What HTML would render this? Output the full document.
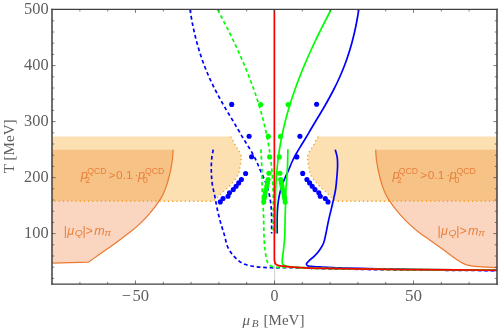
<!DOCTYPE html>
<html><head><meta charset="utf-8"><title>chart</title>
<style>html,body{margin:0;padding:0;background:#fff}svg{display:block;will-change:transform}</style>
</head><body>
<svg width="498" height="331" viewBox="0 0 498 331">
<rect width="498" height="331" fill="#fff"/>
<path d="M52.00 136.60 L230.60 136.60 C231.37 137.83 232.21 139.03 232.90 140.30 C233.62 141.62 234.08 143.08 234.80 144.40 C235.57 145.82 236.55 147.12 237.40 148.50 C238.28 149.92 239.31 151.28 240.00 152.80 C240.61 154.14 241.26 155.56 241.40 157.00 C241.51 158.14 241.25 159.34 241.10 160.50 C240.91 162.01 240.54 163.50 240.30 165.00 C240.12 166.10 239.98 167.20 239.80 168.30 C239.56 169.74 239.44 171.22 239.00 172.60 C238.53 174.06 237.77 175.46 237.00 176.80 C235.60 179.24 233.66 181.38 231.80 183.50 C228.93 186.77 225.42 189.45 222.30 192.50 C220.18 194.58 218.29 196.92 216.00 198.80 C214.97 199.64 213.87 200.40 212.80 201.20 L52.00 201.20 Z" fill="#fce0b2"/>
<path d="M497.00 136.60 L318.20 136.60 C317.43 137.83 316.59 139.03 315.90 140.30 C315.18 141.62 314.72 143.08 314.00 144.40 C313.23 145.82 312.25 147.12 311.40 148.50 C310.52 149.92 309.49 151.28 308.80 152.80 C308.19 154.14 307.54 155.56 307.40 157.00 C307.29 158.14 307.55 159.34 307.70 160.50 C307.89 162.01 308.26 163.50 308.50 165.00 C308.68 166.10 308.82 167.20 309.00 168.30 C309.24 169.74 309.36 171.22 309.80 172.60 C310.27 174.06 311.03 175.46 311.80 176.80 C313.20 179.24 315.14 181.38 317.00 183.50 C319.87 186.77 323.38 189.45 326.50 192.50 C328.62 194.58 330.51 196.92 332.80 198.80 C333.83 199.64 334.93 200.40 336.00 201.20 L497.00 201.20 Z" fill="#fce0b2"/>
<path d="M52.00 149.70 L173.10 149.70 C172.93 152.47 172.88 155.25 172.60 158.00 C172.28 161.08 171.77 164.15 171.20 167.20 C170.59 170.49 169.84 173.76 169.00 177.00 C168.14 180.33 167.25 183.66 166.10 186.90 C165.13 189.64 164.13 192.42 162.80 195.00 C161.69 197.15 160.27 199.13 159.00 201.20 L52.00 201.20 Z" fill="#f6c286"/>
<path d="M497.00 149.70 L375.70 149.70 C375.87 152.47 375.92 155.25 376.20 158.00 C376.52 161.08 377.03 164.15 377.60 167.20 C378.21 170.49 378.96 173.76 379.80 177.00 C380.66 180.33 381.55 183.66 382.70 186.90 C383.67 189.64 384.67 192.42 386.00 195.00 C387.11 197.15 388.53 199.13 389.80 201.20 L497.00 201.20 Z" fill="#f6c286"/>
<path d="M52.00 201.20 L159.00 201.20 C157.60 203.20 156.26 205.25 154.80 207.20 C152.28 210.57 149.55 213.80 146.70 216.90 C144.15 219.67 141.48 222.36 138.70 224.90 C136.07 227.31 133.30 229.58 130.50 231.80 C127.92 233.84 125.22 235.71 122.60 237.70 C119.82 239.81 117.10 242.01 114.30 244.10 C109.06 248.00 103.55 251.54 98.20 255.30 C94.99 257.56 91.80 259.83 88.60 262.10 L52.00 263.10 Z" fill="#fad5c0"/>
<path d="M497.00 201.20 L389.80 201.20 C391.20 203.20 392.54 205.25 394.00 207.20 C396.52 210.57 399.25 213.80 402.10 216.90 C404.65 219.67 407.33 222.35 410.10 224.90 C412.67 227.27 415.35 229.54 418.10 231.70 C420.72 233.76 423.46 235.69 426.20 237.60 C427.46 238.48 428.74 239.33 430.00 240.20 C434.61 243.38 439.16 246.63 443.70 249.90 C448.26 253.19 452.59 256.83 457.30 259.90 C458.88 260.93 460.43 262.02 462.10 262.90 C463.30 263.53 464.53 264.15 465.80 264.60 C467.47 265.19 469.25 265.47 471.00 265.80 C474.58 266.47 478.26 266.61 481.90 266.90 C486.92 267.31 491.97 267.43 497.00 267.70 Z" fill="#fad5c0"/>
<path d="M230.60 136.60 C231.37 137.83 232.21 139.03 232.90 140.30 C233.62 141.62 234.08 143.08 234.80 144.40 C235.57 145.82 236.55 147.12 237.40 148.50 C238.28 149.92 239.31 151.28 240.00 152.80 C240.61 154.14 241.26 155.56 241.40 157.00 C241.51 158.14 241.25 159.34 241.10 160.50 C240.91 162.01 240.54 163.50 240.30 165.00 C240.12 166.10 239.98 167.20 239.80 168.30 C239.56 169.74 239.44 171.22 239.00 172.60 C238.53 174.06 237.77 175.46 237.00 176.80 C235.60 179.24 233.66 181.38 231.80 183.50 C228.93 186.77 225.42 189.45 222.30 192.50 C220.18 194.58 218.29 196.92 216.00 198.80 C214.97 199.64 213.87 200.40 212.80 201.20 L52.00 201.20" fill="none" stroke="#f0a02a" stroke-width="1.4" stroke-dasharray="1.2 3.0"/>
<path d="M318.20 136.60 C317.43 137.83 316.59 139.03 315.90 140.30 C315.18 141.62 314.72 143.08 314.00 144.40 C313.23 145.82 312.25 147.12 311.40 148.50 C310.52 149.92 309.49 151.28 308.80 152.80 C308.19 154.14 307.54 155.56 307.40 157.00 C307.29 158.14 307.55 159.34 307.70 160.50 C307.89 162.01 308.26 163.50 308.50 165.00 C308.68 166.10 308.82 167.20 309.00 168.30 C309.24 169.74 309.36 171.22 309.80 172.60 C310.27 174.06 311.03 175.46 311.80 176.80 C313.20 179.24 315.14 181.38 317.00 183.50 C319.87 186.77 323.38 189.45 326.50 192.50 C328.62 194.58 330.51 196.92 332.80 198.80 C333.83 199.64 334.93 200.40 336.00 201.20 L497.00 201.20" fill="none" stroke="#f0a02a" stroke-width="1.4" stroke-dasharray="1.2 3.0"/>
<path d="M173.10 149.70 C172.93 152.47 172.88 155.25 172.60 158.00 C172.28 161.08 171.77 164.15 171.20 167.20 C170.59 170.49 169.84 173.76 169.00 177.00 C168.14 180.33 167.25 183.66 166.10 186.90 C165.13 189.64 164.13 192.42 162.80 195.00 C161.69 197.15 160.33 199.17 159.00 201.20 C157.66 203.24 156.26 205.25 154.80 207.20 C152.28 210.57 149.55 213.80 146.70 216.90 C144.15 219.67 141.48 222.36 138.70 224.90 C136.07 227.31 133.30 229.58 130.50 231.80 C127.92 233.84 125.22 235.71 122.60 237.70 C119.82 239.81 117.10 242.01 114.30 244.10 C109.06 248.00 103.55 251.54 98.20 255.30 C94.99 257.56 91.80 259.83 88.60 262.10 L52.00 263.10" fill="none" stroke="#eb7a30" stroke-width="1.2" stroke-linejoin="round"/>
<path d="M375.70 149.70 C375.87 152.47 375.92 155.25 376.20 158.00 C376.52 161.08 377.03 164.15 377.60 167.20 C378.21 170.49 378.96 173.76 379.80 177.00 C380.66 180.33 381.55 183.66 382.70 186.90 C383.67 189.64 384.67 192.42 386.00 195.00 C387.11 197.15 388.47 199.17 389.80 201.20 C391.14 203.24 392.54 205.25 394.00 207.20 C396.52 210.57 399.25 213.80 402.10 216.90 C404.65 219.67 407.33 222.35 410.10 224.90 C412.67 227.27 415.35 229.54 418.10 231.70 C420.72 233.76 423.46 235.69 426.20 237.60 C427.46 238.48 428.74 239.33 430.00 240.20 C434.61 243.38 439.16 246.63 443.70 249.90 C448.26 253.19 452.59 256.83 457.30 259.90 C458.88 260.93 460.43 262.02 462.10 262.90 C463.30 263.53 464.53 264.15 465.80 264.60 C467.47 265.19 469.25 265.47 471.00 265.80 C474.58 266.47 478.26 266.61 481.90 266.90 C486.92 267.31 491.97 267.43 497.00 267.70" fill="none" stroke="#eb7a30" stroke-width="1.2"/>
<g fill="#e8803c" font-family="Liberation Sans, sans-serif" font-style="italic"><text x="80.8" y="178.9" font-size="12.8">p</text><text x="87.2" y="173.9" font-size="9.6" font-style="normal" textLength="19.3" lengthAdjust="spacingAndGlyphs">QCD</text><text x="85.3" y="182.6" font-size="8.6" font-style="normal">2</text><text x="108.6" y="178.9" font-size="11.8" font-style="normal">&gt;</text><text x="116.1" y="178.9" font-size="11.8" font-style="normal" textLength="16.6" lengthAdjust="spacingAndGlyphs">0.1</text><text x="134.6" y="178.9" font-size="11.8" font-style="normal">·</text><text x="137.9" y="178.9" font-size="12.8">p</text><text x="142.9" y="182.6" font-size="8.6" font-style="normal">0</text><text x="145.0" y="173.9" font-size="9.6" font-style="normal" textLength="19.3" lengthAdjust="spacingAndGlyphs">QCD</text></g>
<g fill="#e8803c" font-family="Liberation Sans, sans-serif" font-style="italic"><text x="392.4" y="178.9" font-size="12.8">p</text><text x="398.8" y="173.9" font-size="9.6" font-style="normal" textLength="19.3" lengthAdjust="spacingAndGlyphs">QCD</text><text x="396.9" y="182.6" font-size="8.6" font-style="normal">2</text><text x="420.2" y="178.9" font-size="11.8" font-style="normal">&gt;</text><text x="427.7" y="178.9" font-size="11.8" font-style="normal" textLength="16.6" lengthAdjust="spacingAndGlyphs">0.1</text><text x="446.2" y="178.9" font-size="11.8" font-style="normal">·</text><text x="449.5" y="178.9" font-size="12.8">p</text><text x="454.5" y="182.6" font-size="8.6" font-style="normal">0</text><text x="456.6" y="173.9" font-size="9.6" font-style="normal" textLength="19.3" lengthAdjust="spacingAndGlyphs">QCD</text></g>
<g fill="#e8803c" font-family="Liberation Sans, sans-serif" font-style="italic"><text x="63.8" y="235.0" font-size="12.5" font-style="normal">|</text><text x="67.2" y="235.0" font-size="12.5">μ</text><text x="74.8" y="235.8" font-size="9.3" textLength="8.0" lengthAdjust="spacingAndGlyphs">Q</text><text x="82.5" y="235.0" font-size="12.5" font-style="normal">|</text><text x="85.6" y="235.0" font-size="12.5" font-style="normal">&gt;</text><text x="94.3" y="235.0" font-size="12.5">m</text><text x="104.5" y="236.0" font-size="9.4" textLength="6.6" lengthAdjust="spacingAndGlyphs">π</text></g>
<g fill="#e8803c" font-family="Liberation Sans, sans-serif" font-style="italic"><text x="437.6" y="235.0" font-size="12.5" font-style="normal">|</text><text x="441.0" y="235.0" font-size="12.5">μ</text><text x="448.6" y="235.8" font-size="9.3" textLength="8.0" lengthAdjust="spacingAndGlyphs">Q</text><text x="456.3" y="235.0" font-size="12.5" font-style="normal">|</text><text x="459.4" y="235.0" font-size="12.5" font-style="normal">&gt;</text><text x="468.1" y="235.0" font-size="12.5">m</text><text x="478.3" y="236.0" font-size="9.4" textLength="6.6" lengthAdjust="spacingAndGlyphs">π</text></g>
<line x1="274.6" y1="9.2" x2="274.6" y2="284.1" stroke="#cfcfcf" stroke-width="1"/>
<path d="M190.02 9.50 C190.45 12.17 190.85 14.84 191.32 17.50 C191.79 20.17 192.29 22.84 192.83 25.50 C193.37 28.17 193.95 30.84 194.57 33.50 C195.20 36.18 195.86 38.84 196.57 41.50 C197.29 44.18 198.05 46.85 198.85 49.50 C199.66 52.18 200.52 54.85 201.42 57.50 C202.33 60.18 203.29 62.85 204.30 65.50 C205.33 68.19 206.40 70.85 207.53 73.50 C208.67 76.19 209.87 78.86 211.11 81.50 C212.37 84.19 213.70 86.85 215.05 89.50 C216.42 92.19 217.84 94.85 219.28 97.50 C220.74 100.19 222.25 102.85 223.77 105.50 C225.31 108.18 226.88 110.85 228.47 113.50 C230.07 116.18 231.73 118.82 233.34 121.50 C234.93 124.16 236.50 126.83 238.07 129.50 C239.63 132.16 241.14 134.86 242.73 137.50 C244.35 140.19 246.06 142.82 247.69 145.50 C249.31 148.15 250.97 150.78 252.48 153.50 C253.94 156.12 255.35 158.78 256.61 161.50 C257.82 164.12 258.78 166.85 259.93 169.50 C261.10 172.19 262.44 174.81 263.60 177.50 C264.74 180.14 265.90 182.78 266.82 185.50 C267.71 188.12 268.45 190.80 269.07 193.50 C269.68 196.14 270.14 198.82 270.51 201.50 C270.88 204.15 271.12 206.83 271.31 209.50 C271.50 212.16 271.57 214.83 271.63 217.50 C271.69 220.17 271.66 222.83 271.66 225.50 C271.66 228.17 271.62 230.83 271.60 233.50" fill="none" stroke="#0000ff" stroke-width="1.70" stroke-dasharray="3.7 2.8"/>
<path d="M213.20 149.60 C212.73 152.40 212.12 155.18 211.80 158.00 C211.50 160.65 211.37 163.33 211.30 166.00 C211.21 169.66 211.35 173.34 211.60 177.00 C211.78 179.67 211.99 182.36 212.40 185.00 C212.82 187.69 213.54 190.33 214.10 193.00 C214.61 195.43 215.14 197.86 215.60 200.30 C215.88 201.80 216.12 203.30 216.40 204.80 C217.42 210.21 218.69 215.58 220.10 220.90 C221.52 226.28 223.42 231.53 224.90 236.90 C225.74 239.92 226.10 243.12 227.30 246.00 C228.18 248.12 229.31 250.19 230.60 252.10 C232.06 254.26 233.82 256.29 235.70 258.10 C237.89 260.20 240.31 262.28 243.00 263.60 C245.57 264.87 248.56 265.41 251.40 266.00 C254.58 266.66 257.86 266.91 261.10 267.20 C265.12 267.56 269.16 267.74 273.20 267.80 C277.13 267.86 281.07 267.59 285.00 267.60 C288.67 267.61 292.33 267.76 296.00 267.85 C310.67 268.19 325.33 268.68 340.00 269.00 C366.00 269.56 392.00 269.78 418.00 270.05 C444.33 270.33 470.67 270.45 497.00 270.65" fill="none" stroke="#0000ff" stroke-width="1.70" stroke-dasharray="3.7 2.8"/>
<path d="M358.78 9.50 C358.35 12.17 357.95 14.84 357.48 17.50 C357.01 20.17 356.51 22.84 355.97 25.50 C355.43 28.17 354.85 30.84 354.23 33.50 C353.60 36.18 352.94 38.84 352.23 41.50 C351.51 44.18 350.75 46.85 349.95 49.50 C349.14 52.18 348.28 54.85 347.38 57.50 C346.47 60.18 345.51 62.85 344.50 65.50 C343.47 68.19 342.40 70.85 341.27 73.50 C340.13 76.19 338.93 78.86 337.69 81.50 C336.43 84.19 335.10 86.85 333.75 89.50 C332.38 92.19 330.96 94.85 329.52 97.50 C328.06 100.19 326.55 102.85 325.03 105.50 C323.49 108.18 321.92 110.85 320.33 113.50 C318.73 116.18 317.07 118.82 315.46 121.50 C313.87 124.16 312.30 126.83 310.73 129.50 C309.17 132.16 307.66 134.86 306.07 137.50 C304.45 140.19 302.74 142.82 301.11 145.50 C299.49 148.15 297.83 150.78 296.32 153.50 C294.86 156.12 293.45 158.78 292.19 161.50 C290.98 164.12 290.02 166.85 288.87 169.50 C287.70 172.19 286.36 174.81 285.20 177.50 C284.06 180.14 282.90 182.78 281.98 185.50 C281.09 188.12 280.35 190.80 279.73 193.50 C279.12 196.14 278.66 198.82 278.29 201.50 C277.92 204.15 277.68 206.83 277.49 209.50 C277.30 212.16 277.23 214.83 277.17 217.50 C277.11 220.17 277.14 222.83 277.14 225.50 C277.14 228.17 277.18 230.83 277.20 233.50" fill="none" stroke="#0000ff" stroke-width="1.70" />
<path d="M335.30 149.60 C335.97 152.40 336.93 155.16 337.30 158.00 C337.63 160.53 337.62 163.13 337.60 165.70 C337.58 168.13 337.37 170.57 337.20 173.00 C337.03 175.40 336.83 177.80 336.60 180.20 C336.29 183.47 336.02 186.76 335.50 190.00 C334.90 193.77 333.92 197.47 333.10 201.20 C331.55 208.19 329.70 215.10 328.20 222.10 C327.21 226.72 326.50 231.41 325.40 236.00 C324.81 238.44 324.43 240.99 323.50 243.30 C322.47 245.85 320.92 248.26 319.30 250.50 C317.71 252.69 315.83 254.70 313.90 256.60 C312.17 258.30 309.89 259.50 308.40 261.40 C307.65 262.36 306.05 263.55 306.40 264.50 C306.57 264.95 307.14 265.48 307.60 265.80 C308.50 266.43 309.86 266.24 311.00 266.40 C313.97 266.82 317.00 266.74 320.00 266.90 C326.67 267.26 333.33 267.63 340.00 267.90 C353.32 268.44 366.67 268.53 380.00 268.80 C392.67 269.06 405.33 269.30 418.00 269.50 C444.33 269.91 470.67 270.03 497.00 270.30" fill="none" stroke="#0000ff" stroke-width="1.70" stroke-linejoin="round"/>
<circle cx="231.70" cy="104.40" r="2.55" fill="#0000ff"/>
<circle cx="249.10" cy="136.30" r="2.55" fill="#0000ff"/>
<circle cx="251.60" cy="156.70" r="2.55" fill="#0000ff"/>
<circle cx="245.60" cy="173.50" r="2.55" fill="#0000ff"/>
<circle cx="241.40" cy="179.50" r="2.55" fill="#0000ff"/>
<circle cx="238.70" cy="182.90" r="2.55" fill="#0000ff"/>
<circle cx="236.10" cy="186.20" r="2.55" fill="#0000ff"/>
<circle cx="233.30" cy="189.60" r="2.55" fill="#0000ff"/>
<circle cx="229.50" cy="192.70" r="2.55" fill="#0000ff"/>
<circle cx="228.00" cy="196.20" r="2.55" fill="#0000ff"/>
<circle cx="223.00" cy="198.50" r="2.55" fill="#0000ff"/>
<circle cx="220.30" cy="201.90" r="2.55" fill="#0000ff"/>
<circle cx="316.60" cy="104.30" r="2.55" fill="#0000ff"/>
<circle cx="299.90" cy="136.30" r="2.55" fill="#0000ff"/>
<circle cx="296.80" cy="156.90" r="2.55" fill="#0000ff"/>
<circle cx="302.70" cy="173.40" r="2.55" fill="#0000ff"/>
<circle cx="306.90" cy="179.50" r="2.55" fill="#0000ff"/>
<circle cx="309.60" cy="182.90" r="2.55" fill="#0000ff"/>
<circle cx="312.20" cy="186.20" r="2.55" fill="#0000ff"/>
<circle cx="315.00" cy="189.60" r="2.55" fill="#0000ff"/>
<circle cx="318.80" cy="192.70" r="2.55" fill="#0000ff"/>
<circle cx="320.30" cy="196.20" r="2.55" fill="#0000ff"/>
<circle cx="325.30" cy="198.50" r="2.55" fill="#0000ff"/>
<circle cx="328.00" cy="201.90" r="2.55" fill="#0000ff"/>
<path d="M217.70 9.50 C219.05 12.17 220.40 14.84 221.76 17.50 C223.13 20.17 224.53 22.83 225.89 25.50 C227.24 28.16 228.58 30.82 229.90 33.50 C231.21 36.16 232.51 38.82 233.78 41.50 C235.05 44.16 236.29 46.82 237.52 49.50 C238.74 52.16 239.94 54.82 241.11 57.50 C242.28 60.16 243.42 62.82 244.54 65.50 C245.65 68.16 246.74 70.82 247.81 73.50 C248.87 76.16 249.90 78.82 250.91 81.50 C251.91 84.16 252.89 86.82 253.84 89.50 C254.78 92.16 255.69 94.82 256.57 97.50 C257.45 100.16 258.30 102.82 259.12 105.50 C259.93 108.16 260.71 110.82 261.46 113.50 C262.20 116.16 262.92 118.82 263.60 121.50 C264.27 124.16 264.92 126.83 265.52 129.50 C266.12 132.16 266.69 134.83 267.22 137.50 C267.75 140.16 268.24 142.83 268.69 145.50 C269.14 148.16 269.55 150.83 269.93 153.50 C270.31 156.16 270.66 158.83 270.97 161.50 C271.28 164.16 271.55 166.83 271.80 169.50 C272.05 172.16 272.26 174.83 272.45 177.50 C272.64 180.16 272.80 182.83 272.93 185.50 C273.05 188.17 273.14 190.83 273.20 193.50 C273.26 196.17 273.28 198.83 273.30 201.50 C273.32 204.17 273.30 206.83 273.30 209.50 C273.30 212.17 273.31 214.83 273.30 217.50 C273.29 220.17 273.27 222.83 273.25 225.50 C273.23 228.17 273.22 230.83 273.20 233.50" fill="none" stroke="#00ff00" stroke-width="1.70" stroke-dasharray="3.7 2.8"/>
<path d="M260.90 149.40 C261.20 154.93 261.58 160.46 261.80 166.00 C262.17 174.99 261.87 184.01 262.30 193.00 C262.51 197.34 262.88 201.66 263.10 206.00 C263.25 209.00 263.38 212.00 263.50 215.00 C263.83 223.33 263.74 231.68 264.20 240.00 C264.32 242.13 264.38 244.28 264.60 246.40 C264.80 248.31 265.14 250.20 265.40 252.10 C265.57 253.30 265.70 254.51 265.90 255.70 C266.17 257.34 266.38 259.02 266.90 260.60 C267.20 261.52 267.49 262.49 268.00 263.30 C268.52 264.13 269.20 264.95 270.00 265.50 C270.59 265.90 271.31 266.17 272.00 266.40 C273.27 266.83 274.66 266.83 276.00 267.00 C282.61 267.85 289.33 267.25 296.00 267.40 C310.67 267.73 325.33 268.27 340.00 268.60 C366.00 269.18 392.00 269.38 418.00 269.65 C444.33 269.93 470.67 270.05 497.00 270.25" fill="none" stroke="#00ff00" stroke-width="1.70" stroke-dasharray="3.7 2.8"/>
<path d="M331.10 9.50 C329.75 12.17 328.40 14.84 327.04 17.50 C325.67 20.17 324.27 22.83 322.91 25.50 C321.56 28.16 320.22 30.82 318.90 33.50 C317.59 36.16 316.29 38.82 315.02 41.50 C313.75 44.16 312.51 46.82 311.28 49.50 C310.06 52.16 308.86 54.82 307.69 57.50 C306.52 60.16 305.38 62.82 304.26 65.50 C303.15 68.16 302.06 70.82 300.99 73.50 C299.93 76.16 298.90 78.82 297.89 81.50 C296.89 84.16 295.91 86.82 294.96 89.50 C294.02 92.16 293.11 94.82 292.23 97.50 C291.35 100.16 290.50 102.82 289.68 105.50 C288.87 108.16 288.09 110.82 287.34 113.50 C286.60 116.16 285.88 118.82 285.20 121.50 C284.53 124.16 283.88 126.83 283.28 129.50 C282.68 132.16 282.11 134.83 281.58 137.50 C281.05 140.16 280.56 142.83 280.11 145.50 C279.66 148.16 279.25 150.83 278.87 153.50 C278.49 156.16 278.14 158.83 277.83 161.50 C277.52 164.16 277.25 166.83 277.00 169.50 C276.75 172.16 276.54 174.83 276.35 177.50 C276.16 180.16 276.00 182.83 275.87 185.50 C275.75 188.17 275.66 190.83 275.60 193.50 C275.54 196.17 275.52 198.83 275.50 201.50 C275.48 204.17 275.50 206.83 275.50 209.50 C275.50 212.17 275.49 214.83 275.50 217.50 C275.51 220.17 275.53 222.83 275.55 225.50 C275.57 228.17 275.58 230.83 275.60 233.50" fill="none" stroke="#00ff00" stroke-width="1.70" />
<path d="M287.90 149.30 C287.77 154.87 287.72 160.44 287.50 166.00 C287.15 175.01 286.12 183.99 285.80 193.00 C285.64 197.33 285.63 201.67 285.50 206.00 C285.41 209.00 285.30 212.00 285.20 215.00 C284.93 223.33 285.15 231.69 284.50 240.00 C284.13 244.71 283.51 249.40 283.00 254.10 C282.74 256.53 281.92 258.99 282.20 261.40 C282.31 262.37 282.26 263.55 282.80 264.30 C283.19 264.84 283.88 265.28 284.50 265.60 C285.34 266.03 286.36 266.09 287.30 266.30 C290.15 266.92 293.10 267.08 296.00 267.40 C310.57 269.00 325.33 268.27 340.00 268.60 C366.00 269.18 392.00 269.38 418.00 269.65 C444.33 269.93 470.67 270.05 497.00 270.25" fill="none" stroke="#00ff00" stroke-width="1.70" />
<circle cx="260.70" cy="104.50" r="2.55" fill="#00ff00"/>
<circle cx="268.30" cy="136.40" r="2.55" fill="#00ff00"/>
<circle cx="269.60" cy="156.90" r="2.55" fill="#00ff00"/>
<circle cx="268.90" cy="173.30" r="2.55" fill="#00ff00"/>
<circle cx="268.10" cy="179.50" r="2.55" fill="#00ff00"/>
<circle cx="267.50" cy="182.90" r="2.55" fill="#00ff00"/>
<circle cx="266.80" cy="186.20" r="2.55" fill="#00ff00"/>
<circle cx="266.00" cy="189.60" r="2.55" fill="#00ff00"/>
<circle cx="265.20" cy="192.70" r="2.55" fill="#00ff00"/>
<circle cx="264.60" cy="196.20" r="2.55" fill="#00ff00"/>
<circle cx="264.10" cy="198.50" r="2.55" fill="#00ff00"/>
<circle cx="263.70" cy="201.90" r="2.55" fill="#00ff00"/>
<circle cx="288.10" cy="104.50" r="2.55" fill="#00ff00"/>
<circle cx="280.50" cy="136.40" r="2.55" fill="#00ff00"/>
<circle cx="279.20" cy="156.90" r="2.55" fill="#00ff00"/>
<circle cx="279.90" cy="173.30" r="2.55" fill="#00ff00"/>
<circle cx="280.70" cy="179.50" r="2.55" fill="#00ff00"/>
<circle cx="281.30" cy="182.90" r="2.55" fill="#00ff00"/>
<circle cx="282.00" cy="186.20" r="2.55" fill="#00ff00"/>
<circle cx="282.80" cy="189.60" r="2.55" fill="#00ff00"/>
<circle cx="283.60" cy="192.70" r="2.55" fill="#00ff00"/>
<circle cx="284.20" cy="196.20" r="2.55" fill="#00ff00"/>
<circle cx="284.70" cy="198.50" r="2.55" fill="#00ff00"/>
<circle cx="285.10" cy="201.90" r="2.55" fill="#00ff00"/>
<path d="M274.35 9.50 C274.35 39.67 274.35 69.83 274.35 100.00 C274.35 133.33 274.35 166.67 274.35 200.00 C274.35 213.33 274.35 226.67 274.35 240.00 C274.35 243.33 274.35 246.67 274.35 250.00 C274.35 251.33 274.35 252.67 274.35 254.00 C274.35 255.00 274.33 256.00 274.35 257.00 C274.37 258.17 274.32 259.35 274.50 260.50 C274.63 261.34 274.71 262.26 275.10 263.00 C275.41 263.59 275.88 264.19 276.40 264.60 C277.11 265.16 278.11 265.35 279.00 265.60 C280.48 266.02 282.07 266.01 283.60 266.20 C285.73 266.46 287.86 266.70 290.00 266.90 C292.00 267.09 294.00 267.25 296.00 267.40 C310.63 268.52 325.33 268.27 340.00 268.60 C366.00 269.18 392.00 269.38 418.00 269.65 C444.33 269.93 470.67 270.05 497.00 270.25" fill="none" stroke="#ff0000" stroke-width="1.70" />
<path d="M52.00 8.65 V284.70 M497.00 8.65 V284.70" fill="none" stroke="#404040" stroke-width="1.5"/>
<path d="M51.30 9.25 H497.70 M51.30 284.10 H497.70" fill="none" stroke="#404040" stroke-width="1.25"/>
<path d="M52.00 278.40 h2.20 M497.00 278.40 h-2.20 M52.00 267.20 h2.20 M497.00 267.20 h-2.20 M52.00 256.00 h2.20 M497.00 256.00 h-2.20 M52.00 244.80 h2.20 M497.00 244.80 h-2.20 M52.00 233.60 h3.60 M497.00 233.60 h-3.60 M52.00 222.40 h2.20 M497.00 222.40 h-2.20 M52.00 211.20 h2.20 M497.00 211.20 h-2.20 M52.00 200.00 h2.20 M497.00 200.00 h-2.20 M52.00 188.80 h2.20 M497.00 188.80 h-2.20 M52.00 177.60 h3.60 M497.00 177.60 h-3.60 M52.00 166.40 h2.20 M497.00 166.40 h-2.20 M52.00 155.20 h2.20 M497.00 155.20 h-2.20 M52.00 144.00 h2.20 M497.00 144.00 h-2.20 M52.00 132.80 h2.20 M497.00 132.80 h-2.20 M52.00 121.60 h3.60 M497.00 121.60 h-3.60 M52.00 110.40 h2.20 M497.00 110.40 h-2.20 M52.00 99.20 h2.20 M497.00 99.20 h-2.20 M52.00 88.00 h2.20 M497.00 88.00 h-2.20 M52.00 76.80 h2.20 M497.00 76.80 h-2.20 M52.00 65.60 h3.60 M497.00 65.60 h-3.60 M52.00 54.40 h2.20 M497.00 54.40 h-2.20 M52.00 43.20 h2.20 M497.00 43.20 h-2.20 M52.00 32.00 h2.20 M497.00 32.00 h-2.20 M52.00 20.80 h2.20 M497.00 20.80 h-2.20 M79.90 284.10 v-2.20 M79.90 9.25 v2.20 M107.70 284.10 v-2.20 M107.70 9.25 v2.20 M135.50 284.10 v-3.60 M135.50 9.25 v3.60 M163.30 284.10 v-2.20 M163.30 9.25 v2.20 M191.10 284.10 v-2.20 M191.10 9.25 v2.20 M218.90 284.10 v-2.20 M218.90 9.25 v2.20 M246.70 284.10 v-2.20 M246.70 9.25 v2.20 M274.50 284.10 v-3.60 M274.50 9.25 v3.60 M302.30 284.10 v-2.20 M302.30 9.25 v2.20 M330.10 284.10 v-2.20 M330.10 9.25 v2.20 M357.90 284.10 v-2.20 M357.90 9.25 v2.20 M385.70 284.10 v-2.20 M385.70 9.25 v2.20 M413.50 284.10 v-3.60 M413.50 9.25 v3.60 M441.30 284.10 v-2.20 M441.30 9.25 v2.20 M469.10 284.10 v-2.20 M469.10 9.25 v2.20" stroke="#404040" stroke-width="0.7" fill="none"/>
<g fill="#5e5e5e" font-family="Liberation Serif, serif" font-size="16.9">
<text x="48.6" y="237.90" text-anchor="end" textLength="24.6" lengthAdjust="spacingAndGlyphs">100</text>
<text x="48.6" y="181.90" text-anchor="end" textLength="24.6" lengthAdjust="spacingAndGlyphs">200</text>
<text x="48.6" y="125.90" text-anchor="end" textLength="24.6" lengthAdjust="spacingAndGlyphs">300</text>
<text x="48.6" y="69.90" text-anchor="end" textLength="24.6" lengthAdjust="spacingAndGlyphs">400</text>
<text x="48.6" y="13.90" text-anchor="end" textLength="24.6" lengthAdjust="spacingAndGlyphs">500</text>
<text x="274.50" y="300.5" text-anchor="middle" textLength="8.0" lengthAdjust="spacingAndGlyphs">0</text>
<text x="149.0" y="300.5" text-anchor="end" textLength="16.6" lengthAdjust="spacingAndGlyphs">50</text>
<text x="121.8" y="300.5" textLength="9.2" lengthAdjust="spacingAndGlyphs">−</text>
<text x="413.40" y="300.5" text-anchor="middle" textLength="17" lengthAdjust="spacingAndGlyphs">50</text>
</g>
<g fill="#5e5e5e" font-family="Liberation Serif, serif" font-size="14.9">
<text x="242.6" y="324.6" font-style="italic">μ</text>
<text x="251.7" y="327.4" font-style="italic" font-size="11.2">B</text>
<text x="263.5" y="324.6" textLength="41.0" lengthAdjust="spacingAndGlyphs">[MeV]</text>
<text transform="translate(13.8,173.2) rotate(-90)" textLength="53.8" lengthAdjust="spacingAndGlyphs">T [MeV]</text>
</g>
</svg>
</body></html>
